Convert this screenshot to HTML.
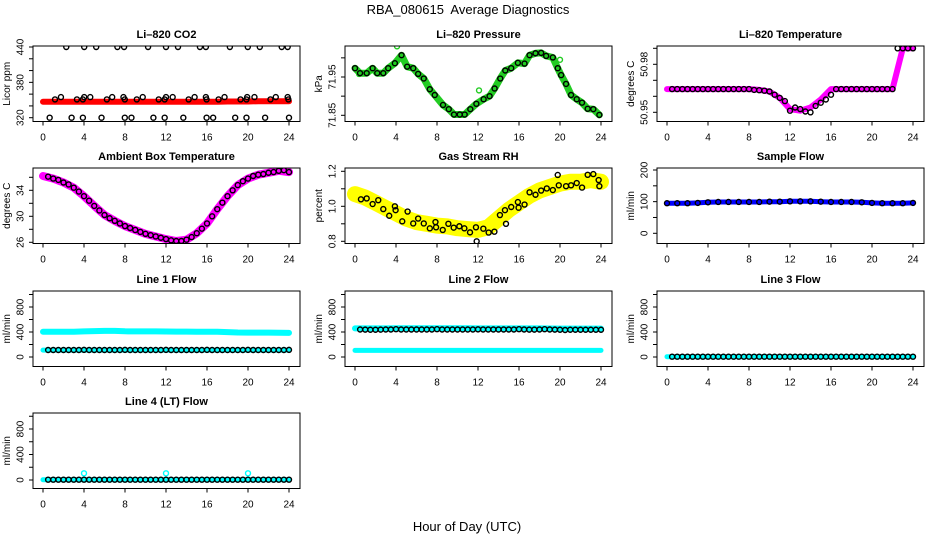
<!DOCTYPE html>
<html><head><meta charset="utf-8">
<style>
html,body{margin:0;padding:0;background:#fff;}
svg{display:block;font-family:"Liberation Sans",Arial,sans-serif;}
</style></head>
<body>
<svg id="chart" width="936" height="540" viewBox="0 0 936 540" xmlns="http://www.w3.org/2000/svg">
<rect x="0" y="0" width="936" height="540" fill="#fff"/>
<text x="468" y="14" font-size="13" text-anchor="middle" style="white-space:pre" xml:space="preserve">RBA_080615  Average Diagnostics</text>
<text x="467" y="531" font-size="13" text-anchor="middle">Hour of Day (UTC)</text>
</svg>
<script>
// ---- data (hours / values) ----
const X_TICKS = [0,4,8,12,16,20,24];
const HOURS = [0,1,2,3,4,5,6,7,8,9,10,11,12,13,14,15,16,17,18,19,20,21,22,23,24];
const HALF = [0.5,1,1.5,2,2.5,3,3.5,4,4.5,5,5.5,6,6.5,7,7.5,8,8.5,9,9.5,10,10.5,11,11.5,12,12.5,13,13.5,14,14.5,15,15.5,16,16.5,17,17.5,18,18.5,19,19.5,20,20.5,21,21.5,22,22.5,23,23.5,24];

// CO2
const CO2_RED = [347,347,347,347,347,347,347,347,347,347,347,347,347,347,347,347,347,347,347.5,347.5,347.5,348,348,348,348];
const CO2_BLK_X = [2.27,4.02,5.19,7.26,7.91,10.25,12.0,13.17,15.31,15.89,18.23,19.98,21.15,23.29,23.87,
 0.65,2.79,3.89,5.71,7.98,8.63,10.77,11.87,13.69,15.96,16.6,18.75,19.85,21.67,24.0,
 1.17,1.75,3.31,3.89,4.02,4.61,6.23,6.75,7.85,7.98,9.15,9.73,11.29,11.87,12.0,12.65,14.21,14.79,15.89,15.96,17.13,17.71,19.27,19.85,19.92,20.63,22.19,22.71,23.87,23.94];
const CO2_BLK_Y = [440,440,440,440,440,440,440,440,440,440,440,440,440,440,440,
 320,320,320,320,320,320,320,320,320,320,320,320,320,320,320,
 351,355,351,351,355,355,351,355,355,351,351,355,351,351,355,355,351,355,355,351,351,355,351,351,355,355,351,355,355,351];

// Pressure
const P_X = [0,0.49,1.14,1.72,2.17,2.76,3.24,3.89,4.54,5.09,5.68,6.16,6.71,7.3,7.78,8.59,9.15,9.66,10.22,10.7,11.25,11.84,12.55,13.13,13.62,14.17,14.66,15.24,15.89,16.54,17.03,17.61,18.16,18.65,19.3,19.78,20.11,20.59,21.08,21.63,22.15,22.7,23.25,23.84];
const P_Y = [71.973,71.96,71.96,71.973,71.96,71.96,71.973,71.986,72.007,71.977,71.973,71.958,71.946,71.918,71.903,71.877,71.866,71.852,71.852,71.852,71.866,71.88,71.892,71.9,71.92,71.946,71.967,71.973,71.987,71.985,72.007,72.012,72.013,72.005,72.001,71.973,71.955,71.932,71.903,71.892,71.883,71.867,71.866,71.851];
const P_OUT_X = [4.1,12.1,20.0,0.4];
const P_OUT_Y = [72.03,71.915,71.995,71.958];

// Li-820 temperature
const T_BAND = [50.9645,50.9645,50.9645,50.9645,50.9645,50.9645,50.9645,50.9645,50.9645,50.964,50.963,50.959,50.952,50.951,50.953,50.958,50.9645,50.9645,50.9645,50.9645,50.9645,50.9645,50.9645,50.99,50.99];
const T_BLK = [50.9645,50.9645,50.9645,50.9645,50.9645,50.9645,50.9645,50.9645,50.9645,50.9645,50.9645,50.9645,50.9645,50.9645,50.9645,50.9645,50.964,50.9638,50.9635,50.963,50.961,50.959,50.957,50.951,50.953,50.952,50.9505,50.950,50.954,50.956,50.958,50.961,50.9645,50.9645,50.9645,50.9645,50.9645,50.9645,50.9645,50.9645,50.9645,50.9645,50.9645,50.9645,50.99,50.99,50.99,50.99];

// Ambient box temperature
const A_BAND = [36.2,35.8,35.2,34.4,33.1,31.6,30.2,29.3,28.5,27.9,27.3,26.9,26.5,26.2,26.4,27.4,28.9,31.1,33.1,34.8,35.8,36.4,36.7,37.0,36.8];
const A_BLK = [36.1,35.8,35.6,35.2,34.9,34.4,33.8,33.1,32.4,31.6,30.9,30.2,29.7,29.3,28.9,28.5,28.2,27.9,27.6,27.3,27.1,26.9,26.7,26.5,26.3,26.2,26.2,26.4,26.8,27.4,28.1,28.9,30.0,31.1,32.1,33.1,34.0,34.8,35.4,35.8,36.2,36.4,36.5,36.7,36.8,37.0,37.1,36.8];

// Gas stream RH
const RH_BAND = [1.07,1.05,1.02,0.99,0.96,0.93,0.91,0.90,0.89,0.885,0.875,0.87,0.865,0.88,0.93,0.98,1.02,1.06,1.09,1.11,1.13,1.14,1.14,1.15,1.14];
const RH_X = [0.58,1.14,1.72,2.27,2.76,3.34,3.89,3.96,4.61,5.13,5.68,6.16,6.71,7.3,7.85,7.91,8.56,9.11,9.63,10.18,10.67,11.22,11.8,11.87,12.52,13.04,13.6,14.14,14.63,14.73,15.24,15.89,15.96,16.54,17.03,17.61,18.16,18.71,19.3,19.78,19.88,20.59,21.08,21.63,22.15,22.7,23.25,23.77,23.84];
const RH_Y = [1.04,1.045,1.013,1.035,0.984,0.946,1.0,0.978,0.914,0.97,0.902,0.93,0.902,0.874,0.91,0.88,0.865,0.9,0.878,0.886,0.874,0.851,0.88,0.8,0.872,0.85,0.855,0.95,0.978,0.9,0.996,1.024,0.992,1.01,1.08,1.066,1.09,1.102,1.093,1.179,1.12,1.115,1.12,1.133,1.107,1.18,1.184,1.15,1.115];

// Sample flow
const SF_BAND = [95,95,95,96,98,99,99,99,99,99,100,100,101,101,101,100,99,99,99,98,96,95,95,95,96];

// Line flows
const L1_UP = [405,405,405,405,410,415,418,418,412,410,410,410,408,407,406,405,404,403,398,392,390,390,390,388,385];
const L1_LOW = [110,110,110,110,110,110,110,110,110,110,110,110,110,110,110,110,110,110,110,110,110,110,110,110,110];
const L1_BLK = [112,112,112,112,112,112,112,114,112,112,112,112,112,112,112,114,112,112,112,112,112,112,112,114,112,112,112,112,112,112,112,114,112,112,112,112,112,112,112,114,112,112,112,112,112,112,112,114];
const L2_UP = [458,458,458,458,460,460,460,460,460,460,460,460,458,458,458,458,458,458,458,456,455,455,455,455,455];
const L2_LOW = [105,105,105,105,105,105,105,105,105,105,105,105,105,105,105,105,105,105,105,105,105,105,105,105,105];
const L2_BLK = [440,438,436,436,438,440,440,445,440,440,440,440,440,440,440,445,440,440,440,440,440,440,440,442,440,440,440,440,440,440,440,445,440,438,438,440,445,440,438,436,432,436,436,436,436,436,436,436];
const L3_CY = [5,5,5,5,5,5,5,5,5,5,5,5,5,5,5,5,5,5,5,5,5,5,5,5,5];
const L3_BLK = [5,5,5,5,5,5,5,5,5,5,5,5,5,5,5,5,5,5,5,5,5,5,5,5,5,5,5,5,5,5,5,5,5,5,5,5,5,5,5,5,5,5,5,5,5,5,5,5];
const L4_OUT_X = [4,12,20];
const L4_OUT_Y = [105,105,105];

// ---- drawing ----
const NS = "http://www.w3.org/2000/svg";
const svg = document.getElementById('chart');
const COLS = [33,345,657], ROWS = [46,168,291,413];
const BW = 267, BH = 75.5;

function mk(tag, attrs, parent){
  const e = document.createElementNS(NS, tag);
  for (const k in attrs) e.setAttribute(k, attrs[k]);
  (parent||svg).appendChild(e);
  return e;
}

function panel(p){
  const L = COLS[p.col], T = ROWS[p.row];
  const g = mk('g', {});
  
  
  const xs = h => L + 10 + h * (246 / 24);
  const ys = v => p.p1 + (v - p.v1) * (p.p2 - p.p1) / (p.v2 - p.v1);
  p.xs = xs; p.ys = ys; p.g = g;
  const t = mk('text', {x: L + BW/2, y: T - 8, 'font-size': 11, 'font-weight': 'bold', 'text-anchor': 'middle'}, g);
  t.textContent = p.title;
  
  
  const cid = 'clip' + p.name;
  const cp = mk('clipPath', {id: cid}, g);
  mk('rect', {x: L, y: T, width: BW, height: BH}, cp);
  const data = mk('g', {'clip-path': 'url(#' + cid + ')'}, g);
  
  
  p.d = data;
  p.draw(p);
  const box = mk('rect', {x: L, y: T, width: BW, height: BH, fill: 'none', stroke: '#000', 'stroke-width': 1}, g);
  
  
  const xa = mk('g', {}, g);
  
  
  X_TICKS.forEach(h => {
    mk('line', {x1: xs(h), x2: xs(h), y1: T + BH, y2: T + BH + 4, stroke: '#000'}, xa);
    const tl = mk('text', {x: xs(h), y: T + BH + 19, 'font-size': 10, 'text-anchor': 'middle'}, xa);
    tl.textContent = h;
  });
  const ya = mk('g', {}, g);
  
  
  p.yt.forEach(v => {
    mk('line', {x1: L - 4, x2: L, y1: ys(v), y2: ys(v), stroke: '#000'}, ya);
  });
  p.yl.forEach(v => {
    const tl = mk('text', {x: 0, y: 0, 'font-size': 10, 'text-anchor': 'middle',
      transform: 'translate(' + (L - 9.5) + ',' + ys(v) + ') rotate(-90)'}, ya);
    tl.textContent = p.fmt ? p.fmt(v) : v;
  });
  const yt = mk('text', {x: 0, y: 0, 'font-size': 10, 'text-anchor': 'middle',
    transform: 'translate(' + (L - 23) + ',' + (T + BH/2) + ') rotate(-90)'}, g);
  yt.textContent = p.ytitle;
  
  
}

function band(p, xsArr, vals, color, w, nm){
  const pts = vals.map((v,i) => p.xs(xsArr[i]).toFixed(1) + ',' + p.ys(v).toFixed(1)).join(' ');
  const pl = mk('polyline', {points: pts, fill: 'none', stroke: color, 'stroke-width': w, 'stroke-linejoin': 'round', 'stroke-linecap': 'round'}, p.d);
  
  
}
function circles(p, xsArr, vals, color, nm){
  const g = mk('g', {}, p.d);
  
  
  vals.forEach((v,i) => {
    const c = mk('circle', {cx: p.xs(xsArr[i]), cy: p.ys(v), r: 2.5, fill: 'none', stroke: color, 'stroke-width': 1.4}, g);
    
    
  });
}

const FLOW_T = [0,200,400,600,800,1000], FLOW_L = [0,400,800];

const panels = [
 {name:'co2', title:'Li\u2013820 CO2', ytitle:'Licor ppm', col:0,row:0, v1:440,p1:47,v2:320,p2:117.7,
  yt:[320,340,360,380,400,420,440], yl:[320,380,440],
  draw:p=>{band(p,HOURS,CO2_RED,'#ff0000',6,'co2-red-band'); circles(p,CO2_BLK_X,CO2_BLK_Y,'#000','co2-avg');}},
 {name:'pressure', title:'Li\u2013820 Pressure', ytitle:'kPa', col:1,row:0, v1:71.95,p1:77,v2:71.85,p2:115.3,
  yt:[71.85,71.90,71.95,72.00], yl:[71.85,71.95], fmt:v=>v.toFixed(2),
  draw:p=>{band(p,P_X,P_Y,'#22cc22',7,'pressure-green-band'); circles(p,P_OUT_X,P_OUT_Y,'#22cc22','pressure-outliers'); circles(p,P_X,P_Y,'#000','pressure-avg');}},
 {name:'li820-temp', title:'Li\u2013820 Temperature', ytitle:'degrees C', col:2,row:0, v1:50.98,p1:64.3,v2:50.95,p2:112.3,
  yt:[50.95,50.96,50.97,50.98,50.99], yl:[50.95,50.98], fmt:v=>v.toFixed(2),
  draw:p=>{band(p,HOURS,T_BAND,'#ff00ff',6,'temp-magenta-band'); circles(p,HALF,T_BLK,'#000','temp-avg');}},
 {name:'ambient', title:'Ambient Box Temperature', ytitle:'degrees C', col:0,row:1, v1:34,p1:190.3,v2:26,p2:242.3,
  yt:[26,28,30,32,34,36], yl:[26,30,34],
  draw:p=>{band(p,HOURS,A_BAND,'#ff00ff',8,'ambient-magenta-band'); circles(p,HALF,A_BLK,'#000','ambient-avg');}},
 {name:'rh', title:'Gas Stream RH', ytitle:'percent', col:1,row:1, v1:1.2,p1:171.3,v2:0.8,p2:241.3,
  yt:[0.8,0.9,1.0,1.1,1.2], yl:[0.8,1.0,1.2], fmt:v=>v.toFixed(1),
  draw:p=>{band(p,HOURS,RH_BAND,'#ffff00',16,'rh-yellow-band'); circles(p,RH_X,RH_Y,'#000','rh-avg');}},
 {name:'sample-flow', title:'Sample Flow', ytitle:'ml/min', col:2,row:1, v1:200,p1:170,v2:0,p2:233.3,
  yt:[0,50,100,150,200], yl:[0,100,200],
  draw:p=>{band(p,HOURS,SF_BAND,'#0000ff',5,'sample-flow-blue-band'); circles(p,HOURS,SF_BAND,'#000','sample-flow-avg');}},
 {name:'line1', title:'Line 1 Flow', ytitle:'ml/min', col:0,row:2, v1:800,p1:307,v2:0,p2:357,
  yt:FLOW_T, yl:FLOW_L,
  draw:p=>{band(p,HOURS,L1_UP,'#00ffff',6,'line1-upper-band'); band(p,HOURS,L1_LOW,'#00ffff',5,'line1-lower-band'); circles(p,HALF,L1_BLK,'#000','line1-avg');}},
 {name:'line2', title:'Line 2 Flow', ytitle:'ml/min', col:1,row:2, v1:800,p1:307,v2:0,p2:357,
  yt:FLOW_T, yl:FLOW_L,
  draw:p=>{band(p,HOURS,L2_UP,'#00ffff',6,'line2-upper-band'); band(p,HOURS,L2_LOW,'#00ffff',5,'line2-lower-band'); circles(p,HALF,L2_BLK,'#000','line2-avg');}},
 {name:'line3', title:'Line 3 Flow', ytitle:'ml/min', col:2,row:2, v1:800,p1:307,v2:0,p2:357,
  yt:FLOW_T, yl:FLOW_L,
  draw:p=>{band(p,HOURS,L3_CY,'#00ffff',5,'line3-band'); circles(p,HALF,L3_BLK,'#000','line3-avg');}},
 {name:'line4', title:'Line 4 (LT) Flow', ytitle:'ml/min', col:0,row:3, v1:800,p1:429,v2:0,p2:480,
  yt:FLOW_T, yl:FLOW_L,
  draw:p=>{band(p,HOURS,L3_CY,'#00ffff',5,'line4-band'); circles(p,L4_OUT_X,L4_OUT_Y,'#00ffff','line4-outliers'); circles(p,HALF,L3_BLK,'#000','line4-avg');}}
];
panels.forEach(panel);
</script>
</body></html>
